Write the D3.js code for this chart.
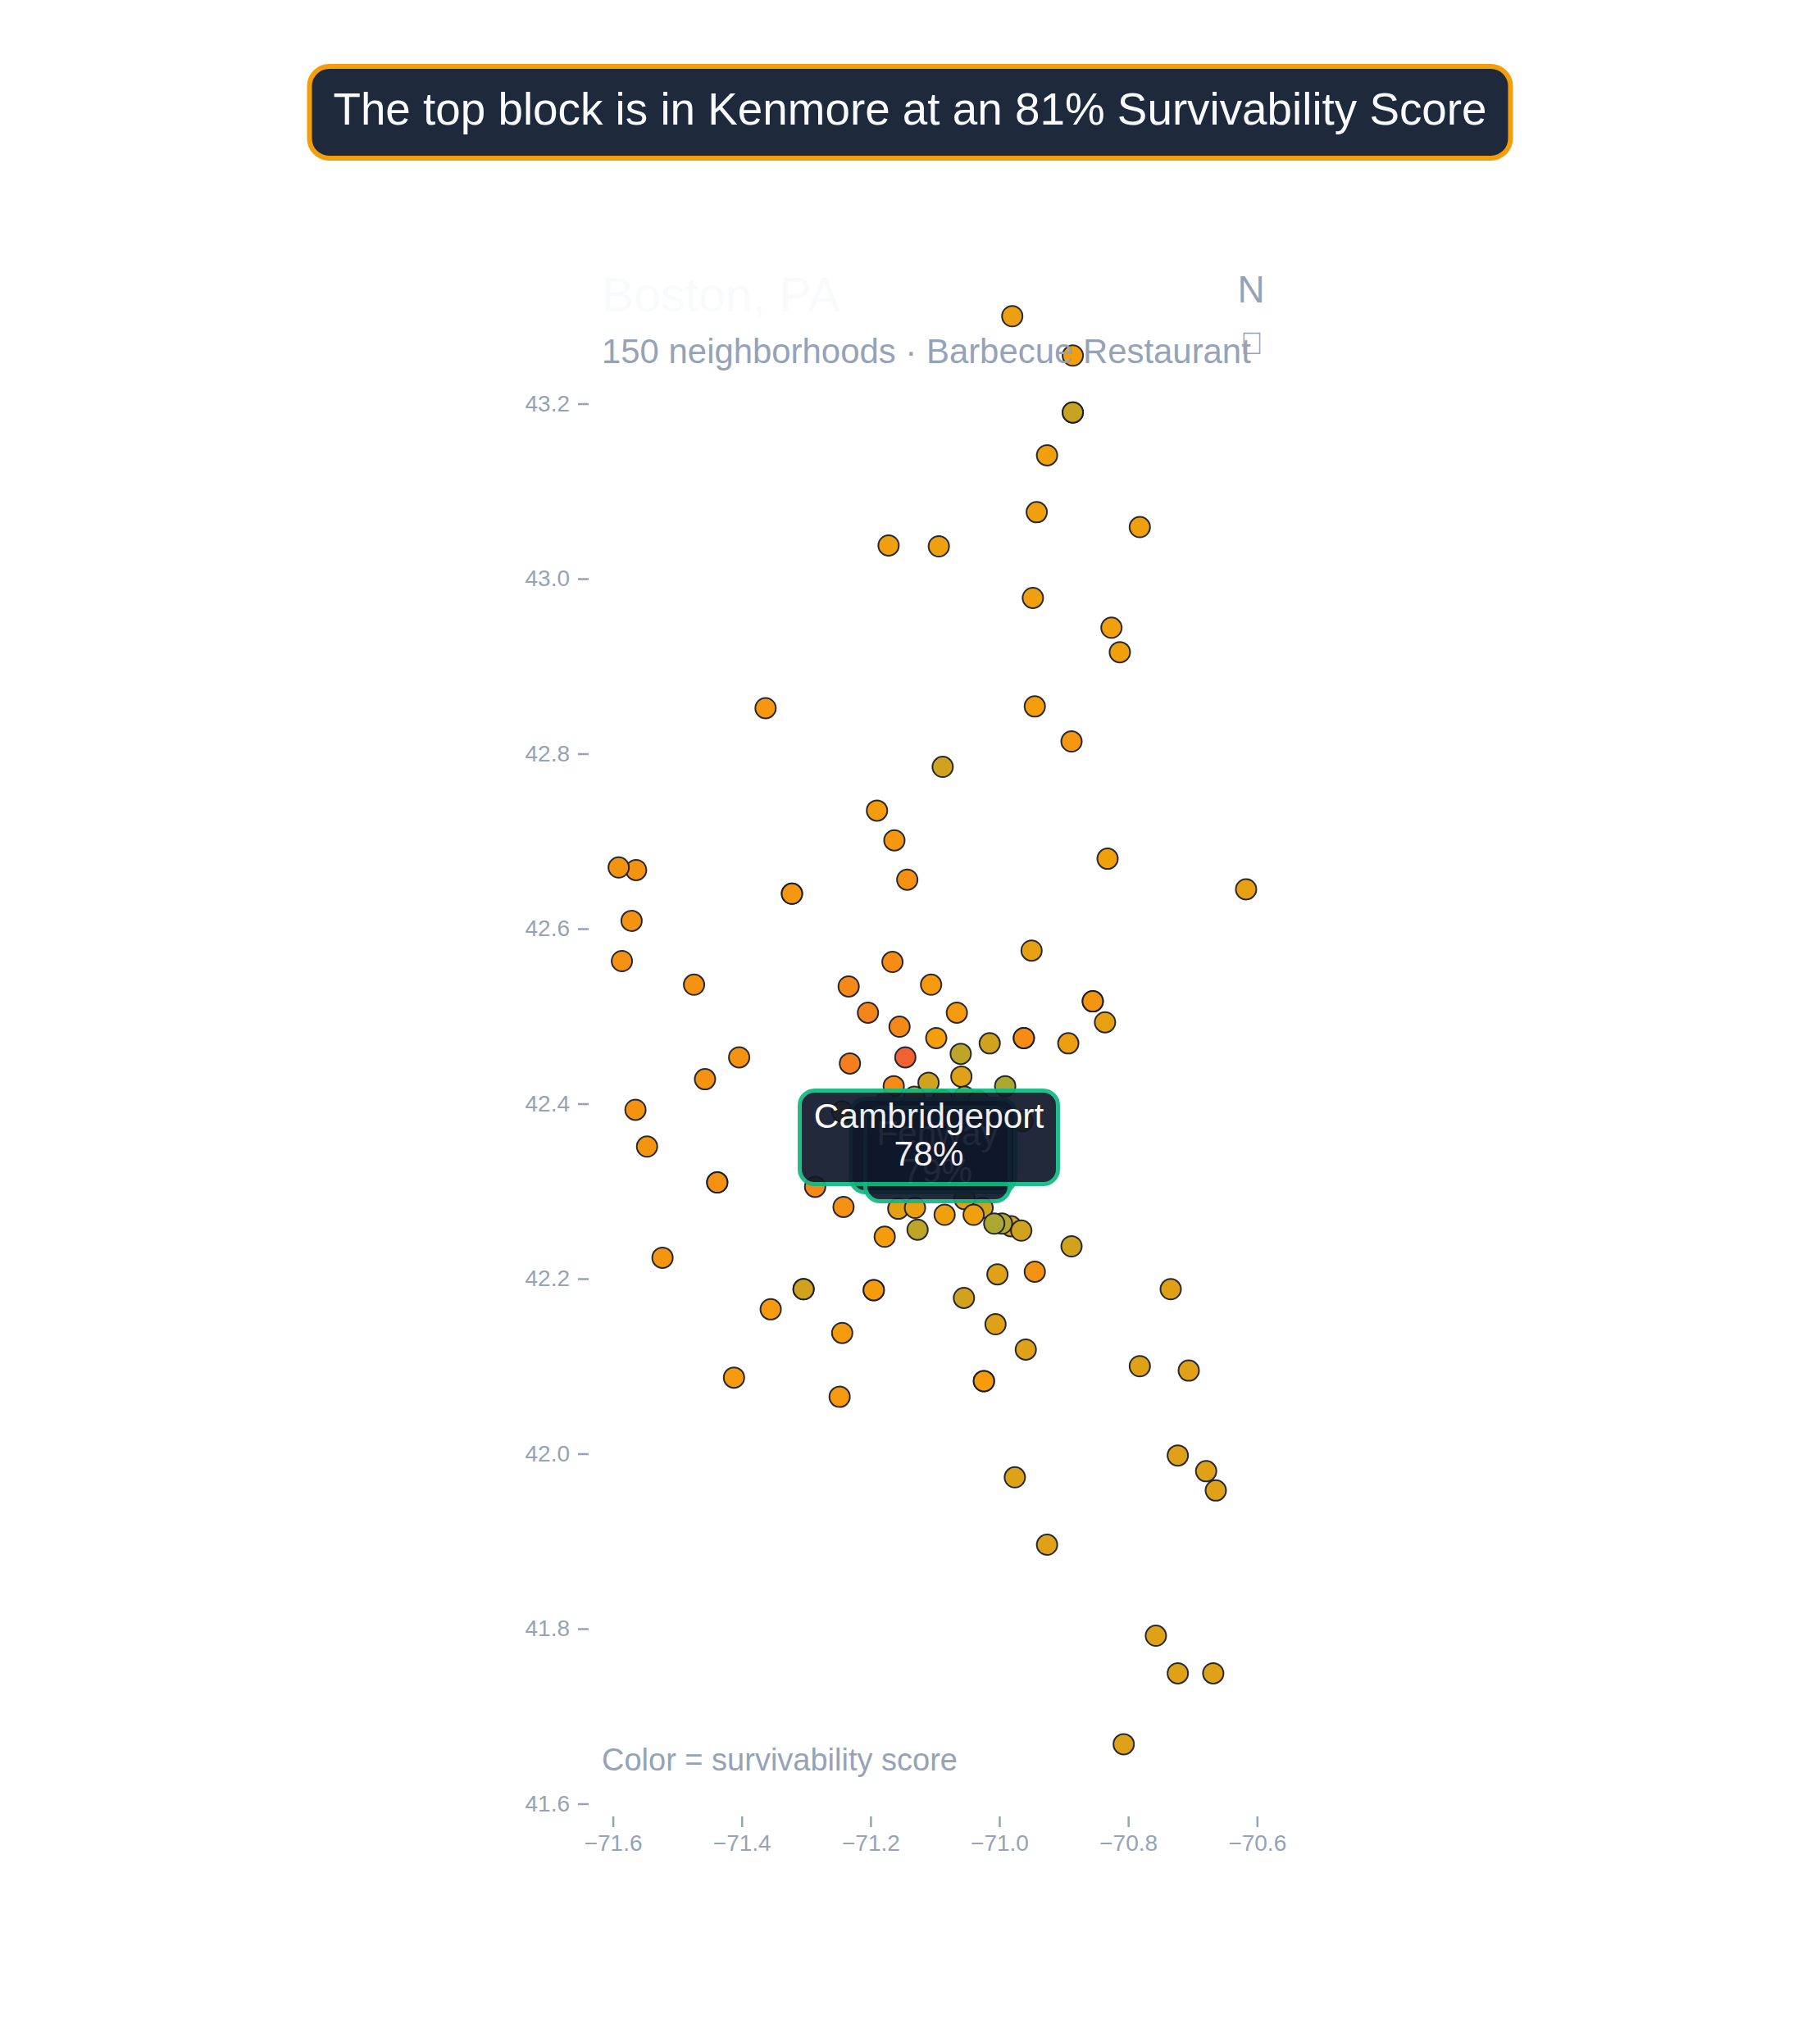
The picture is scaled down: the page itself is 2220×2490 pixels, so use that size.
<!DOCTYPE html><html><head><meta charset="utf-8"><style>html,body{margin:0;background:#fff}svg{display:block}text{font-family:"Liberation Sans",Arial,sans-serif}</style><script src="https://cdn.jsdelivr.net/npm/d3@7"></script></head><body><svg id="c" width="2220" height="2490"></svg><script>
const lons=[-70.980,-70.886,-70.886,-70.926,-70.942,-70.782,-71.172,-71.094,-70.948,-70.826,-70.813,-71.363,-70.945,-70.888,-71.088,-71.190,-71.163,-71.564,-71.591,-71.143,-70.832,-70.617,-71.322,-71.571,-71.586,-70.950,-71.166,-71.474,-71.234,-71.106,-71.204,-71.066,-70.855,-70.836,-71.155,-71.098,-70.962,-71.015,-70.893,-71.060,-71.404,-71.146,-71.232,-71.457,-71.059,-71.110,-71.164,-70.991,-71.565,-71.547,-71.438,-71.286,-71.242,-71.157,-71.131,-71.085,-71.054,-71.026,-71.040,-71.178,-71.127,-70.982,-70.996,-71.008,-70.966,-70.888,-71.523,-70.945,-71.003,-71.304,-71.195,-70.734,-71.055,-71.355,-71.006,-71.244,-70.959,-70.782,-70.706,-71.412,-71.024,-71.248,-70.723,-70.679,-70.664,-70.976,-70.926,-70.757,-70.723,-70.668,-70.807,-71.244,-70.964,-71.054,-71.132,-71.088,-71.177,-71.033,-70.886,-71.322,-70.855,-70.962,-71.438,-71.304,-71.195,-71.024];
const lats=[43.300,43.255,43.190,43.141,43.076,43.059,43.038,43.037,42.978,42.944,42.916,42.852,42.854,42.814,42.785,42.735,42.701,42.667,42.670,42.656,42.680,42.645,42.640,42.609,42.563,42.575,42.562,42.536,42.534,42.536,42.504,42.504,42.517,42.493,42.488,42.475,42.475,42.469,42.469,42.457,42.453,42.453,42.446,42.428,42.431,42.424,42.420,42.420,42.393,42.351,42.310,42.305,42.282,42.280,42.281,42.273,42.291,42.281,42.273,42.248,42.256,42.260,42.263,42.263,42.255,42.237,42.224,42.208,42.205,42.188,42.187,42.188,42.178,42.165,42.148,42.138,42.119,42.100,42.095,42.087,42.083,42.065,41.998,41.980,41.958,41.973,41.896,41.792,41.749,41.749,41.668,42.391,42.380,42.408,42.408,42.404,42.401,42.403,43.190,42.640,42.517,42.475,42.310,42.188,42.187,42.083];
const scores=[52,50,60,51,51,51,51,51,51,51,51,46,50,46,58,49,46,44,44,43,51,53,46,44,43,53,40,44,38,48,36,47,45,53,38,50,40,58,52,62,44,16,33,44,55,58,40,66,44,45,43,38,42,54,52,51,56,58,51,49,62,55,64,66,58,58,45,44,55,58,49,54.5,58,47,55,48,55,55,55,47,49,47,55,55,55,55,55,55,55,55,55,45,50,50,50,50,50,50,60,46,45,40,43,58,49,49];
const xTicks=[-71.6,-71.4,-71.2,-71.0,-70.8,-70.6];
const yTicks=[41.6,41.8,42.0,42.2,42.4,42.6,42.8,43.0,43.2];
const scoreStops=[0,50,100];
const scoreColors=["#ef4444","#f59e0b","#10b981"];
const headline="The top block is in Kenmore at an 81% Survivability Score";
const tipNames=["Kenmore","Fenway","Cambridgeport"];
const tipValues=["81%","79%","78%"];

const svg=d3.select('#c');
const x=d3.scaleLinear().domain([-71.6,-70.6]).range([747.6,1533.3]);
const y=d3.scaleLinear().domain([41.6,43.2]).range([2200.5,492.5]);
const color=d3.scaleLinear().domain(scoreStops).range(scoreColors).interpolate(d3.interpolateRgb);
const muted="#94a3b8";

function styleAxis(g){
  g.select('.domain').remove();
  g.selectAll('line').attr('stroke',muted).attr('stroke-width',2.5);
  g.selectAll('text').attr('fill',muted).attr('font-size',28).attr('font-family','"Liberation Sans",Arial,sans-serif');
}
svg.append('g').attr('transform','translate(0,2216)')
  .call(d3.axisBottom(x).tickValues(xTicks).tickSize(13).tickPadding(9).tickFormat(d3.format('.1f'))).call(styleAxis);
svg.append('g').attr('transform','translate(718,0)')
  .call(d3.axisLeft(y).tickValues(yTicks).tickSize(13).tickPadding(10).tickFormat(d3.format('.1f'))).call(styleAxis);

svg.append('g').selectAll('circle').data(lons).join('circle')
  .attr('cx',d=>x(d)).attr('cy',(d,i)=>y(lats[i])).attr('r',12.5)
  .attr('fill',(d,i)=>color(scores[i])).attr('stroke','#0f172a').attr('stroke-width',2).attr('stroke-opacity',.9);

// title block
svg.append('text').attr('x',734).attr('y',380).attr('font-size',59).attr('fill','#f8fafc').text('Boston, PA');
svg.append('text').attr('x',734).attr('y',443).attr('font-size',41.9).attr('fill',muted).text('150 neighborhoods \u00b7 Barbecue Restaurant');
svg.append('text').attr('x',1526).attr('y',369).attr('text-anchor','middle').attr('font-size',46).attr('fill',muted).text('N');
svg.append('text').attr('x',1527).attr('y',432).attr('text-anchor','middle').attr('font-size',38).attr('fill',muted).text('\uE000');
svg.append('text').attr('x',734).attr('y',2160).attr('font-size',38).attr('fill',muted).text('Color = survivability score');

// tooltips: stacked, the last on top
const tipCx=[1138,1143.5,1133], tipTop=[1340.5,1351.5,1330.5], tipW=[201,176,315];
tipNames.forEach((n,i)=>{
  const g=svg.append('g').attr('opacity',.92);
  g.append('rect').attr('x',tipCx[i]-tipW[i]/2).attr('y',tipTop[i]).attr('width',tipW[i]).attr('height',114).attr('rx',18)
    .attr('fill','#0f172a').attr('stroke','#10b981').attr('stroke-width',5);
  g.append('text').attr('x',tipCx[i]).attr('y',tipTop[i]+45.5).attr('text-anchor','middle').attr('font-size',42.4).attr('fill','#fff').text(n);
  g.append('text').attr('x',tipCx[i]).attr('y',tipTop[i]+91.5).attr('text-anchor','middle').attr('font-size',42.4).attr('fill','#fff').text(tipValues[i]);
});

// headline
svg.append('rect').attr('x',377.5).attr('y',81).attr('width',1465).attr('height',112).attr('rx',24)
  .attr('fill','#1e293b').attr('stroke','#f59e0b').attr('stroke-width',6);
svg.append('text').attr('x',1110).attr('y',152).attr('text-anchor','middle').attr('font-size',54.8).attr('fill','#f8fafc').text(headline);
</script></body></html>
